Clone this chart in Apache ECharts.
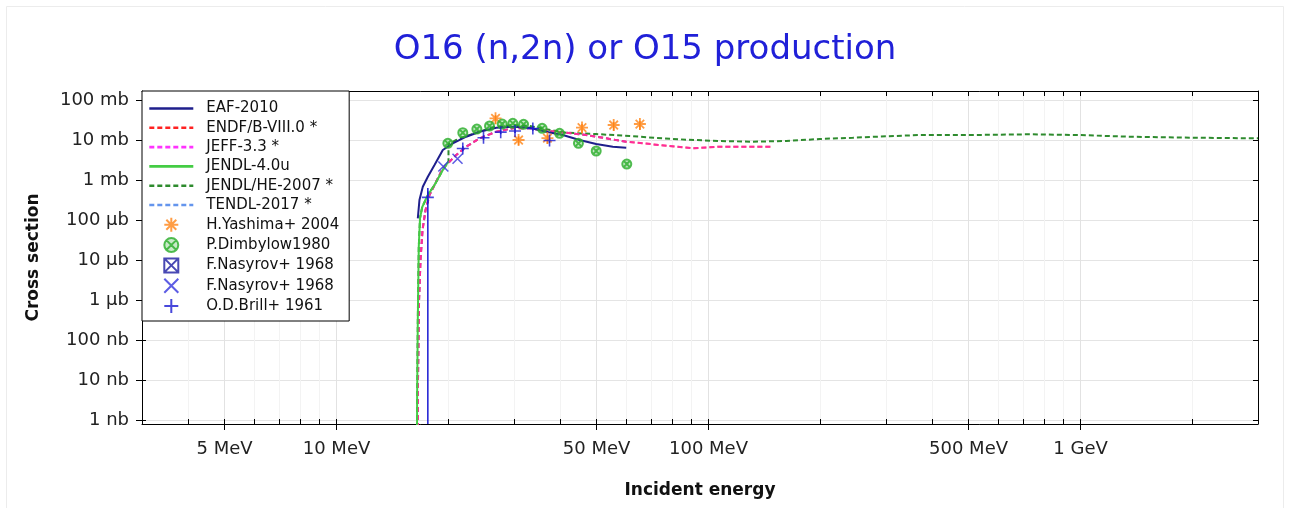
<!DOCTYPE html>
<html><head><meta charset="utf-8">
<script src="https://cdn.jsdelivr.net/npm/echarts@6/dist/echarts.min.js"></script>
<style>html,body{margin:0;padding:0;background:#fff}#c{width:1290px;height:508px}</style>
</head><body><div id="c"></div>
<script>
// ---- axis ticks / labels ----
const xTickValues = [3,4,5,6,7,8,9,10,20,30,40,50,60,70,80,90,100,200,300,400,500,600,700,800,900,1000,2000,3000];
const xLabelValues = [5,10,50,100,500,1000];
const xLabelTexts = ['5 MeV','10 MeV','50 MeV','100 MeV','500 MeV','1 GeV'];
const yTickValues = [1e-6,1e-5,1e-4,1e-3,1e-2,1e-1,1,10,100];
const yLabelTexts = ['1 nb','10 nb','100 nb','1 µb','10 µb','100 µb','1 mb','10 mb','100 mb'];

// ---- evaluated data (E in MeV, cross section in mb) ----
const eafE  = [16.54, 16.71, 17.06, 17.60, 18.34, 19.31, 20.54, 22.32, 24.24, 26.88, 29.78, 33.03, 36.62, 40.58, 45.0, 49.9, 55.3, 60.1];
const eafXS = [0.110, 0.316, 0.68, 1.21, 2.37, 5.62, 8.27, 12.1, 16.1, 20.3, 21.5, 20.3, 16.1, 13.3, 10.0, 7.94, 6.80, 6.42];

const endfE  = [16.55, 16.56, 16.67, 16.82, 17.03, 17.35, 17.78, 18.34, 19.31, 20.98, 22.32, 24.24, 26.88, 29.78, 33.03, 36.62, 41.44, 46.9, 53.1, 60.1, 70.8, 90.7, 107, 148.9];
const endfXS = [1e-9, 1e-5, 1e-3, 0.01, 0.056, 0.178, 0.42, 0.75, 1.96, 4.22, 6.80, 11.0, 16.1, 19.6, 19.6, 17.1, 15.2, 13.3, 11.0, 9.07, 7.81, 6.20, 6.80, 6.80];

const jeffE  = [16.55, 16.56, 16.67, 16.82, 17.03, 17.35, 17.78, 18.34, 19.31, 20.98, 22.32, 24.24, 26.88, 29.78, 33.03, 36.62, 41.44, 46.9, 53.1, 60.1, 70.8, 90.7, 107, 148.9];
const jeffXS = [1e-9, 1e-5, 1e-3, 0.01, 0.056, 0.178, 0.42, 0.75, 1.96, 4.22, 6.80, 11.0, 16.1, 19.6, 19.6, 17.1, 15.2, 13.3, 11.0, 9.07, 7.81, 6.20, 6.80, 6.80];

const jendl4E  = [16.45, 16.47, 16.54, 16.64, 16.77, 17.0, 17.6, 18.34, 19.31, 20.0];
const jendl4XS = [1e-9, 3.16e-6, 3.16e-4, 0.0215, 0.112, 0.211, 0.42, 0.75, 1.78, 2.9];

const jendlheE  = [16.45, 16.47, 16.54, 16.64, 16.77, 17.0, 17.6, 18.34, 19.31, 20.0, 20.0, 20.98, 22.32, 24.24, 26.32, 29.78, 33.03, 36.62, 41.44, 49.9, 61.3, 75.4, 87.1, 107, 131.6, 161.8, 198.8, 244.3, 300.4, 369.2, 502.9, 729.3, 993.8, 1354, 2046, 3000];
const jendlheXS = [1e-9, 3.16e-6, 3.16e-4, 0.0215, 0.112, 0.211, 0.42, 0.75, 1.78, 2.9, 7.94, 10.0, 12.6, 16.1, 20.8, 23.7, 22.4, 18.5, 15.2, 14.1, 12.6, 11.0, 10.2, 9.44, 9.07, 9.44, 10.6, 11.4, 12.4, 13.3, 13.3, 13.9, 13.3, 12.1, 11.4, 11.0];

const tendlE  = [16.55, 16.56, 16.67, 16.82, 17.03, 17.35, 17.78, 18.34, 19.31, 20.98, 22.32, 24.24, 26.88, 29.78, 33.03, 36.62, 41.44, 46.9, 53.1, 60.1];
const tendlXS = [1e-9, 1e-5, 1e-3, 0.01, 0.056, 0.178, 0.42, 0.75, 1.96, 4.22, 6.80, 11.0, 16.1, 19.6, 19.6, 17.1, 15.2, 13.3, 11.0, 9.07];

// ---- experimental data ----
const yashimaE  = [26.76, 30.86, 36.9, 45.7, 55.6, 65.4];
const yashimaXS = [34.9, 10.0, 11.2, 20.5, 23.7, 25.1];
const yashimaLo = [25.0, 7.5, 8.0, 15.0, 17.0, 18.0];
const yashimaHi = [42.0, 12.5, 13.5, 25.0, 28.0, 30.0];

const dimbylowE  = [19.92, 21.85, 23.84, 25.78, 27.89, 29.78, 31.83, 35.7, 39.76, 44.7, 49.9, 60.3];
const dimbylowXS = [8.27, 15.2, 18.8, 22.4, 25.1, 26.2, 24.7, 19.6, 14.7, 8.27, 5.31, 2.51];

const nasyrovSqE  = [];
const nasyrovSqXS = [];

const nasyrovXE  = [19.37, 21.15];
const nasyrovXXS = [2.18, 3.41];

const brillE  = [17.6, 21.85, 24.84, 27.63, 30.19, 33.71, 37.38];
const brillXS = [0.369, 6.13, 11.4, 15.7, 16.8, 19.4, 9.72];
const brillLo = [1e-9, 5.2, 10.0, 14.0, 15.0, 17.0, 8.5];
const brillHi = [0.63, 7.1, 13.0, 17.5, 19.0, 22.0, 11.0];

// ---- build ----
const FONT = 'DejaVu Sans';
const zip = (a, b) => a.map((v, i) => [v, b[i]]);
const zip3 = (a, b, c) => a.map((v, i) => [v, b[i], c[i]]);
const X_MIN = 3, X_MAX = 3000;
const Y_MIN = 7.94e-7, Y_MAX = 168;

const P_ASTER = 'path://M0 -10 L0 10 M-10 0 L10 0 M-7.1 -7.1 L7.1 7.1 M7.1 -7.1 L-7.1 7.1';
const P_OCROSS = 'path://M0 -10 A10 10 0 1 1 0 10 A10 10 0 1 1 0 -10 Z M-7.1 -7.1 L7.1 7.1 M7.1 -7.1 L-7.1 7.1';
const P_SQX = 'path://M-10 -10 L10 -10 L10 10 L-10 10 Z M-10 -10 L10 10 M10 -10 L-10 10';
const P_X = 'path://M-10 -10 L10 10 M10 -10 L-10 10';
const P_PLUS = 'path://M0 -10 L0 10 M-10 0 L10 0';

function lineSeries(name, E, XS, color, dashed, z, opacity) {
  return {
    name, type: 'line', data: zip(E, XS), showSymbol: false, symbol: 'none',
    xAxisIndex: 0, yAxisIndex: 0, z, animation: false,
    lineStyle: { color, width: 2, type: dashed ? [5, 3] : 'solid', opacity: opacity == null ? 1 : opacity },
    itemStyle: { color }
  };
}
function scatterSeries(name, E, XS, color, symbol, size, fill, bw) {
  return {
    name, type: 'scatter', data: zip(E, XS), symbol, symbolSize: size,
    xAxisIndex: 0, yAxisIndex: 0, z: 6, animation: false,
    itemStyle: { color: fill || 'rgba(0,0,0,0)', borderColor: color, borderWidth: bw || 1.6 }
  };
}
function errSeries(E, lo, hi, color) {
  return {
    type: 'custom', data: zip3(E, lo, hi), xAxisIndex: 0, yAxisIndex: 0, z: 5, animation: false,
    renderItem: function (params, api) {
      const x = api.value(0);
      const pTop = api.coord([x, api.value(2)]);
      const pBot = api.coord([x, api.value(1)]);
      const cs = params.coordSys;
      const y1 = Math.max(pTop[1], cs.y), y2 = Math.min(pBot[1], cs.y + cs.height);
      return { type: 'line', shape: { x1: pTop[0], y1: y1, x2: pTop[0], y2: y2 },
               style: { stroke: color, lineWidth: 1.5 } };
    }
  };
}

const lineNames = ['EAF-2010', 'ENDF/B-VIII.0 *', 'JEFF-3.3 *', 'JENDL-4.0u', 'JENDL/HE-2007 *', 'TENDL-2017 *'];
const pointNames = ['H.Yashima+ 2004', 'P.Dimbylow1980', 'F.Nasyrov+ 1968', 'F.Nasyrov+ 1968 ', 'O.D.Brill+ 1961'];

const C_ORANGE = '#ff8416', C_GREEN = '#28ad28', C_NAVY = '#1f1f8c';

const option = {
  backgroundColor: '#ffffff',
  animation: false,
  graphic: [{ type: 'rect', shape: { x: 6.5, y: 6.5, width: 1277, height: 510 }, style: { fill: 'none', stroke: '#ececec', lineWidth: 1 }, z: -1, silent: true }],
  title: {
    text: 'O16 (n,2n) or O15 production', left: 'center', top: 33, padding: 0,
    textStyle: { fontFamily: FONT, fontSize: 34, fontWeight: 'normal', color: '#2020d8' }
  },
  legend: {
    orient: 'vertical', left: 142, top: 91,
    data: lineNames.map(n => ({ name: n, itemStyle: { opacity: 0 }, lineStyle: { width: 2.6, opacity: 1 } }))
      .concat(pointNames.map(n => ({ name: n }))),
    selectedMode: false,
    backgroundColor: '#ffffff', borderColor: '#000', borderWidth: 1, borderRadius: 0,
    padding: [10, 10, 7, 6], itemWidth: 44, itemHeight: 14, itemGap: 4.3,
    textStyle: { fontFamily: FONT, fontSize: 15, color: '#111', padding: [0, 0, 0, 8] }
  },
  grid: { left: 142, right: 32, top: 91, bottom: 84, containLabel: false },
  xAxis: [
    { type: 'log', min: X_MIN, max: X_MAX, position: 'bottom',
      name: 'Incident energy', nameLocation: 'middle', nameGap: 58,
      nameTextStyle: { fontFamily: FONT, fontSize: 17, fontWeight: 'bold', color: '#111' },
      axisLine: { show: true, lineStyle: { color: '#000', width: 1 } },
      axisTick: { show: true, customValues: xTickValues, inside: true, length: 5, lineStyle: { color: '#000' } },
      axisLabel: { show: true, customValues: xLabelValues, margin: 16, fontFamily: FONT, fontSize: 18, color: '#222',
        formatter: v => { const i = xLabelValues.findIndex(t => Math.abs(t - v) / t < 1e-6); return i >= 0 ? xLabelTexts[i] : ''; } },
      splitLine: { show: true, lineStyle: { color: '#f3f3f3', width: 1 } },
      minorTick: { show: false }, minorSplitLine: { show: false } },
    { type: 'log', min: X_MIN, max: X_MAX, position: 'bottom',
      axisLine: { show: false },
      axisTick: { show: true, customValues: xLabelValues, inside: false, length: 6, lineStyle: { color: '#000' } },
      axisLabel: { show: false },
      splitLine: { show: true, lineStyle: { color: '#e2e2e2', width: 1 } } },
    { type: 'log', min: X_MIN, max: X_MAX, position: 'top',
      axisLine: { show: true, lineStyle: { color: '#000', width: 1 } },
      axisTick: { show: true, customValues: xTickValues, inside: true, length: 5, lineStyle: { color: '#000' } },
      axisLabel: { show: false }, splitLine: { show: false } }
  ],
  yAxis: [
    { type: 'log', min: Y_MIN, max: Y_MAX, position: 'left',
      name: 'Cross section', nameLocation: 'middle', nameGap: 100, nameRotate: 90,
      nameTextStyle: { fontFamily: FONT, fontSize: 17, fontWeight: 'bold', color: '#111' },
      axisLine: { show: true, lineStyle: { color: '#000', width: 1 } },
      axisTick: { show: true, customValues: yTickValues, inside: false, length: 6, lineStyle: { color: '#000' } },
      axisLabel: { show: true, customValues: yTickValues, margin: 13, fontFamily: FONT, fontSize: 18, color: '#222',
        formatter: v => { const i = yTickValues.findIndex(t => Math.abs(t - v) / t < 1e-6); return i >= 0 ? yLabelTexts[i] : ''; } },
      splitLine: { show: true, lineStyle: { color: '#e4e4e4', width: 1 } } },
    { type: 'log', min: Y_MIN, max: Y_MAX, position: 'right',
      axisLine: { show: true, lineStyle: { color: '#000', width: 1 } },
      axisTick: { show: true, customValues: yTickValues, inside: true, length: 5, lineStyle: { color: '#000' } },
      axisLabel: { show: false }, splitLine: { show: false } },
    { type: 'log', min: Y_MIN, max: Y_MAX, position: 'left',
      axisLine: { show: false },
      axisTick: { show: true, customValues: yTickValues, inside: true, length: 4, lineStyle: { color: '#000' } },
      axisLabel: { show: false }, splitLine: { show: false } }
  ],
  series: [
    lineSeries('TENDL-2017 *', tendlE, tendlXS, '#6495ed', true, 2),
    lineSeries('JENDL/HE-2007 *', jendlheE, jendlheXS, '#2e8b2e', true, 2),
    lineSeries('ENDF/B-VIII.0 *', endfE, endfXS, '#ff2222', true, 3),
    lineSeries('JEFF-3.3 *', jeffE, jeffXS, '#ff33ff', true, 3, 0.55),
    lineSeries('JENDL-4.0u', jendl4E, jendl4XS, '#44cc44', false, 3),
    lineSeries('EAF-2010', eafE, eafXS, C_NAVY, false, 4),
    errSeries(yashimaE, yashimaLo, yashimaHi, C_ORANGE),
    errSeries(brillE, brillLo, brillHi, '#1a1ad2'),
    scatterSeries('H.Yashima+ 2004', yashimaE, yashimaXS, C_ORANGE, P_ASTER, 12, C_ORANGE, 1.8),
    scatterSeries('P.Dimbylow1980', dimbylowE, dimbylowXS, C_GREEN, P_OCROSS, 9, 'rgba(60,180,60,0.35)', 2),
    scatterSeries('F.Nasyrov+ 1968', nasyrovSqE, nasyrovSqXS, '#1a1aa0', P_SQX, 12),
    scatterSeries('F.Nasyrov+ 1968 ', nasyrovXE, nasyrovXXS, '#3434dd', P_X, 10, '#3434dd'),
    scatterSeries('O.D.Brill+ 1961', brillE, brillXS, '#1a1ad2', P_PLUS, 12, '#1a1ad2')
  ]
};

const chart = echarts.init(document.getElementById('c'), null, { renderer: 'canvas' });
chart.setOption(option);
</script></body></html>
